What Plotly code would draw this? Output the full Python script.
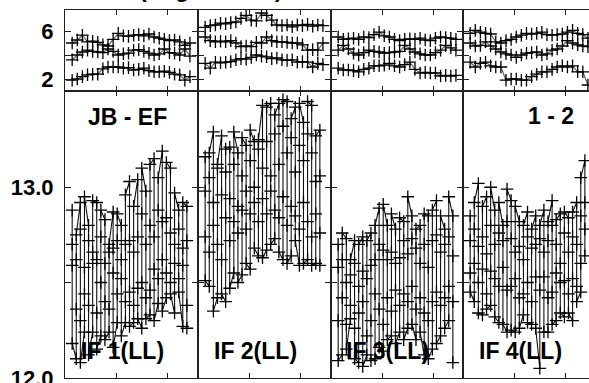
import plotly.graph_objects as go

# ---------------- data ----------------
t_top = [0.14, 0.24, 0.34, 0.44, 0.54, 0.64, 0.74, 0.84, 0.94, 1.04, 1.14, 1.24,
         1.34, 1.44, 1.54, 1.64, 1.74, 1.84, 1.94, 2.04, 2.14, 2.24, 2.34, 2.44]
t_bot = [0.14, 0.22, 0.30, 0.38, 0.46, 0.54, 0.62, 0.70, 0.78, 0.86, 0.94, 1.02,
         1.10, 1.18, 1.26, 1.34, 1.42, 1.50, 1.58, 1.66, 1.74, 1.82, 1.90, 1.98,
         2.06, 2.14, 2.22, 2.30, 2.38]

if_labels = ["IF 1(LL)", "IF 2(LL)", "IF 3(LL)", "IF 4(LL)"]
baseline_left = "JB - EF"
baseline_right = "1 - 2"

# top row (three bands per IF)
top1_upper = [5.0, 5.25, 5.65, 5.1, 5.15, 5.05, 4.85, 4.75, 5.3, 5.8, 5.6, 5.55, 5.65, 5.7, 5.6, 5.75, 5.5, 5.4, 5.3, 5.2, 5.25, 5.1, 4.8, 5.0]
top1_mid   = [3.6, 4.0, 4.25, 4.4, 4.3, 4.25, 4.2, 4.5, 4.3, 4.0, 4.1, 4.15, 4.4, 4.45, 4.3, 4.15, 4.0, 4.1, 4.5, 4.2, 4.15, 4.0, 4.5, 3.9]
top1_lower = [1.9, 2.0, 2.2, 2.35, 2.4, 2.4, 2.85, 3.0, 3.0, 3.0, 2.9, 2.95, 2.75, 2.8, 2.9, 2.7, 2.6, 2.6, 2.65, 2.55, 2.4, 2.35, 1.9, 2.2]

top2_upper = [6.3, 6.45, 6.5, 6.65, 6.6, 6.7, 6.75, 7.05, 7.3, 6.9, 6.85, 7.5, 7.3, 6.9, 6.5, 6.45, 6.5, 6.35, 6.5, 6.45, 6.55, 6.4, 6.5, 6.45]
top2_mid   = [5.5, 5.2, 5.1, 5.15, 5.1, 5.2, 5.0, 4.7, 4.75, 4.7, 5.05, 5.0, 5.5, 5.2, 5.1, 5.1, 5.05, 5.0, 5.0, 4.85, 4.4, 4.45, 4.4, 5.0]
top2_lower = [3.3, 2.9, 3.4, 3.35, 3.4, 3.45, 3.6, 3.7, 3.65, 3.8, 4.0, 3.9, 3.85, 3.7, 3.75, 3.6, 3.55, 3.6, 3.4, 3.45, 3.4, 3.0, 3.3, 3.2]

top3_upper = [5.5, 5.3, 5.35, 5.4, 5.3, 5.5, 5.45, 5.7, 5.9, 5.6, 5.5, 5.3, 5.2, 5.3, 5.35, 5.3, 5.4, 5.25, 5.2, 5.4, 5.5, 5.45, 5.4, 5.3]
top3_mid   = [4.4, 4.8, 4.5, 4.15, 4.0, 4.2, 4.4, 4.3, 4.25, 4.15, 4.2, 4.25, 4.3, 4.8, 4.5, 4.25, 4.1, 4.0, 4.0, 4.2, 4.4, 4.8, 4.6, 4.4]
top3_lower = [2.9, 2.75, 2.75, 2.7, 2.6, 2.8, 2.9, 3.1, 3.1, 3.15, 3.3, 3.1, 3.0, 3.2, 3.4, 2.8, 2.5, 2.55, 2.5, 2.5, 2.25, 2.3, 2.25, 2.3]

top4_upper = [5.8, 6.05, 5.9, 5.8, 5.75, 5.1, 5.0, 5.2, 5.3, 5.5, 5.65, 5.8, 5.75, 5.8, 5.9, 5.7, 5.65, 5.7, 5.75, 5.9, 6.05, 5.8, 5.7, 5.4]
top4_mid   = [5.0, 4.75, 4.8, 5.1, 4.75, 4.5, 4.25, 4.1, 4.0, 3.8, 4.0, 4.15, 4.2, 4.25, 4.0, 4.1, 4.4, 4.5, 4.75, 5.2, 5.0, 4.85, 4.75, 4.7]
top4_lower = [3.4, 3.0, 3.3, 3.4, 3.1, 3.0, 3.0, 1.9, 2.0, 2.0, 1.9, 1.9, 2.2, 2.4, 2.6, 2.6, 2.8, 3.0, 3.1, 3.0, 3.1, 2.6, 2.6, 1.5]

# bottom row: four channel values per time stamp
bot1_hi = [12.88, 12.75, 12.92, 12.95, 12.80, 12.93, 12.92, 12.88, 12.83, 12.70, 12.87, 12.86, 12.80, 12.96, 13.03, 12.90, 13.04, 13.10, 12.98, 13.12, 13.15, 13.05, 13.19, 13.13, 13.10, 12.97, 12.88, 12.92, 12.90]
bot1_m1 = [12.70, 12.62, 12.78, 12.58, 12.72, 12.66, 12.62, 12.74, 12.60, 12.66, 12.68, 12.72, 12.62, 12.70, 12.72, 12.66, 12.74, 12.86, 12.70, 12.80, 12.74, 12.88, 12.82, 12.84, 12.76, 12.70, 12.78, 12.68, 12.72]
bot1_m2 = [12.59, 12.36, 12.30, 12.44, 12.38, 12.60, 12.34, 12.50, 12.40, 12.36, 12.55, 12.44, 12.52, 12.40, 12.45, 12.38, 12.47, 12.50, 12.42, 12.46, 12.57, 12.52, 12.62, 12.55, 12.50, 12.60, 12.52, 12.59, 12.38]
bot1_lo = [12.18, 12.10, 12.08, 12.24, 12.12, 12.24, 12.15, 12.22, 12.20, 12.24, 12.16, 12.29, 12.22, 12.29, 12.27, 12.29, 12.31, 12.26, 12.31, 12.33, 12.30, 12.39, 12.35, 12.42, 12.44, 12.34, 12.45, 12.27, 12.26]

bot2_hi = [13.16, 13.18, 13.29, 13.12, 13.27, 13.20, 13.21, 13.29, 13.18, 13.26, 13.22, 13.30, 13.24, 13.25, 13.43, 13.42, 13.44, 13.38, 13.44, 13.46, 13.45, 13.36, 13.42, 13.44, 13.34, 13.45, 13.43, 13.27, 13.30]
bot2_m1 = [12.98, 13.05, 12.92, 13.10, 12.96, 13.08, 12.94, 13.12, 12.90, 13.06, 12.98, 13.14, 13.00, 13.20, 13.10, 13.24, 13.06, 13.28, 13.12, 13.32, 13.18, 13.26, 13.08, 13.22, 13.14, 13.28, 13.18, 13.03, 13.06]
bot2_m2 = [12.74, 12.66, 12.80, 12.70, 12.62, 12.84, 12.72, 12.82, 12.76, 12.88, 12.78, 12.86, 12.92, 12.82, 12.94, 12.86, 12.98, 12.88, 12.84, 12.95, 12.80, 12.90, 12.85, 12.78, 12.92, 12.82, 12.74, 12.86, 12.76]
bot2_lo = [12.51, 12.48, 12.35, 12.42, 12.44, 12.40, 12.47, 12.55, 12.50, 12.54, 12.60, 12.57, 12.68, 12.64, 12.63, 12.67, 12.70, 12.73, 12.66, 12.62, 12.60, 12.64, 12.72, 12.59, 12.60, 12.62, 12.59, 12.60, 12.59]

bot3_hi = [12.70, 12.76, 12.73, 12.62, 12.72, 12.70, 12.74, 12.72, 12.76, 12.80, 12.89, 12.91, 12.80, 12.86, 12.78, 12.84, 12.82, 12.95, 12.85, 12.78, 12.80, 12.86, 12.85, 12.88, 12.93, 12.85, 12.78, 12.95, 12.85]
bot3_m1 = [12.58, 12.62, 12.50, 12.54, 12.60, 12.48, 12.56, 12.52, 12.59, 12.62, 12.70, 12.67, 12.62, 12.66, 12.60, 12.63, 12.72, 12.65, 12.73, 12.68, 12.60, 12.70, 12.58, 12.72, 12.75, 12.66, 12.70, 12.74, 12.64]
bot3_m2 = [12.30, 12.42, 12.28, 12.38, 12.26, 12.34, 12.40, 12.22, 12.30, 12.44, 12.36, 12.28, 12.42, 12.35, 12.46, 12.38, 12.44, 12.40, 12.48, 12.36, 12.42, 12.34, 12.30, 12.40, 12.45, 12.38, 12.42, 12.48, 12.40]
bot3_lo = [12.09, 12.12, 12.15, 12.31, 12.10, 12.08, 12.06, 12.12, 12.09, 12.10, 12.16, 12.14, 12.20, 12.22, 12.18, 12.24, 12.20, 12.26, 12.28, 12.20, 12.24, 12.12, 12.10, 12.15, 12.18, 12.22, 12.26, 12.30, 12.08]

bot4_hi = [12.85, 12.92, 13.02, 12.90, 12.95, 13.00, 12.88, 12.92, 12.80, 12.99, 12.93, 12.90, 12.82, 12.80, 12.87, 12.78, 12.85, 12.80, 12.88, 12.82, 12.93, 12.83, 12.86, 12.87, 12.84, 12.87, 12.92, 13.05, 13.14]
bot4_m1 = [12.72, 12.78, 12.69, 12.74, 12.65, 12.80, 12.70, 12.76, 12.72, 12.82, 12.73, 12.66, 12.69, 12.62, 12.74, 12.68, 12.70, 12.73, 12.66, 12.72, 12.80, 12.70, 12.60, 12.76, 12.66, 12.74, 12.70, 12.85, 12.92]
bot4_m2 = [12.55, 12.60, 12.50, 12.57, 12.44, 12.56, 12.52, 12.48, 12.58, 12.46, 12.48, 12.52, 12.42, 12.44, 12.50, 12.40, 12.53, 12.46, 12.53, 12.42, 12.45, 12.55, 12.50, 12.51, 12.44, 12.52, 12.48, 12.60, 12.78]
bot4_lo = [12.45, 12.40, 12.34, 12.33, 12.36, 12.38, 12.32, 12.29, 12.28, 12.24, 12.25, 12.24, 12.26, 12.33, 12.29, 12.28, 12.26, 12.05, 12.24, 12.24, 12.28, 12.30, 12.34, 12.32, 12.34, 12.30, 12.40, 12.45, 12.64]

top_ticks = [2, 4, 6]
top_ticktext = ["2", "", "6"]
bot_ticks = [12.0, 12.5, 13.0]
bot_ticktext = ["12.0", "", "13.0"]
x_ticks = [1, 2]

# ---------------- layout geometry ----------------
W, H = 589, 383
ML, MR, MT, MB = 65, 0, 10, 5
PW = W - ML - MR
PH = H - MT - MB
col_px = [(65, 198), (198, 331), (331, 463), (463, 589)]
row_split_px = 91
col_dom = [((a - ML) / PW, (b - ML) / PW) for a, b in col_px]
top_dom = ((H - MB - row_split_px) / PH, 1.0)
bot_dom = (0.0, (H - MB - row_split_px) / PH)
px_per_unit = 51.2
x_ranges = [[0, (b - a) / px_per_unit] for a, b in col_px]
top_range = [1.0, 7.75]
bot_range = [11.999, 13.505]

FONT = "Liberation Sans, Arial, Helvetica, sans-serif"
AXC = "#222222"

fig = go.Figure()

tops = [(top1_upper, top1_mid, top1_lower), (top2_upper, top2_mid, top2_lower),
        (top3_upper, top3_mid, top3_lower), (top4_upper, top4_mid, top4_lower)]
bots = [(bot1_hi, bot1_m1, bot1_m2, bot1_lo), (bot2_hi, bot2_m1, bot2_m2, bot2_lo),
        (bot3_hi, bot3_m1, bot3_m2, bot3_lo), (bot4_hi, bot4_m1, bot4_m2, bot4_lo)]

marker = dict(symbol="cross-thin-open", size=9, color="black",
              line=dict(color="black", width=1.3))

for c in range(4):
    xa_t, ya_t = f"x{c + 1}", f"y{c + 1}"
    xa_b, ya_b = f"x{c + 5}", f"y{c + 5}"
    for band in tops[c]:
        fig.add_trace(go.Scatter(x=t_top, y=band, mode="lines+markers",
                                 line=dict(color="#666666", width=1.2),
                                 marker=marker, xaxis=xa_t, yaxis=ya_t,
                                 showlegend=False, hoverinfo="skip"))
    xs, ys = [], []
    for k, tk in enumerate(t_bot):
        vals = [bots[c][0][k], bots[c][1][k], bots[c][2][k], bots[c][3][k]]
        if k % 2:
            vals = vals[::-1]
        xs += [tk] * 4
        ys += vals
    fig.add_trace(go.Scatter(x=xs, y=ys, mode="lines+markers",
                             line=dict(color="#111111", width=1.1),
                             marker=marker, xaxis=xa_b, yaxis=ya_b,
                             showlegend=False, hoverinfo="skip"))

layout = dict(width=W, height=H, margin=dict(l=ML, r=MR, t=MT, b=MB),
              paper_bgcolor="white", plot_bgcolor="white", showlegend=False,
              font=dict(family=FONT, color="black"))

tickfont = dict(family=FONT, size=22, color="black", weight="bold")
for c in range(4):
    for r, (dom, rng, tv, tt) in enumerate([(top_dom, top_range, top_ticks, top_ticktext),
                                            (bot_dom, bot_range, bot_ticks, bot_ticktext)]):
        n = c + 1 + 4 * r
        xkey = "xaxis" if n == 1 else f"xaxis{n}"
        ykey = "yaxis" if n == 1 else f"yaxis{n}"
        layout[xkey] = dict(domain=list(col_dom[c]), range=x_ranges[c], anchor=f"y{n}",
                            tickvals=x_ticks, ticks="inside", ticklen=5, tickwidth=1,
                            tickcolor=AXC, showline=True, linecolor=AXC, linewidth=1,
                            mirror="ticks", showticklabels=False, showgrid=False,
                            zeroline=False, fixedrange=True, automargin=False)
        layout[ykey] = dict(domain=list(dom), range=rng, anchor=f"x{n}",
                            tickvals=tv, ticktext=tt, ticks="inside", ticklen=6,
                            tickwidth=1, tickcolor=AXC, showline=True, linecolor=AXC,
                            linewidth=1, mirror=("ticks" if c < 3 else False),
                            showticklabels=(c == 0), tickfont=tickfont,
                            ticklabelstandoff=6, ticklabeloverflow="allow",
                            showgrid=False, zeroline=False,
                            fixedrange=True, automargin=False)


def px_x(px):
    return (px - ML) / PW


def px_y(py):
    return (H - MB - py) / PH


ann_font = dict(family=FONT, size=23, color="black", weight="bold")
annotations = [
    dict(text=baseline_left, x=px_x(127), y=px_y(117), xref="paper", yref="paper",
         showarrow=False, font=ann_font, xanchor="center", yanchor="middle"),
    dict(text=baseline_right, x=px_x(551), y=px_y(116), xref="paper", yref="paper",
         showarrow=False, font=ann_font, xanchor="center", yanchor="middle"),
]
if_centers = [122, 255, 387, 520]
for lab, cx in zip(if_labels, if_centers):
    annotations.append(dict(text=lab, x=px_x(cx), y=px_y(351), xref="paper", yref="paper",
                            showarrow=False, font=ann_font, xanchor="center",
                            yanchor="middle"))
# partially visible heading at the very top
annotations.append(dict(text="Amplitude", x=px_x(52), y=px_y(4), xref="paper",
                        yref="paper", showarrow=False, font=ann_font,
                        xanchor="right", yanchor="bottom"))
annotations.append(dict(text="(Avg. 30 Sec)", x=px_x(137), y=px_y(4), xref="paper",
                        yref="paper", showarrow=False, font=ann_font,
                        xanchor="left", yanchor="bottom"))
layout["annotations"] = annotations

fig.update_layout(**layout)
fig.write_html("out.html", config={"displayModeBar": False},
               post_script="document.body.style.margin='0';document.body.style.overflow='hidden';")
